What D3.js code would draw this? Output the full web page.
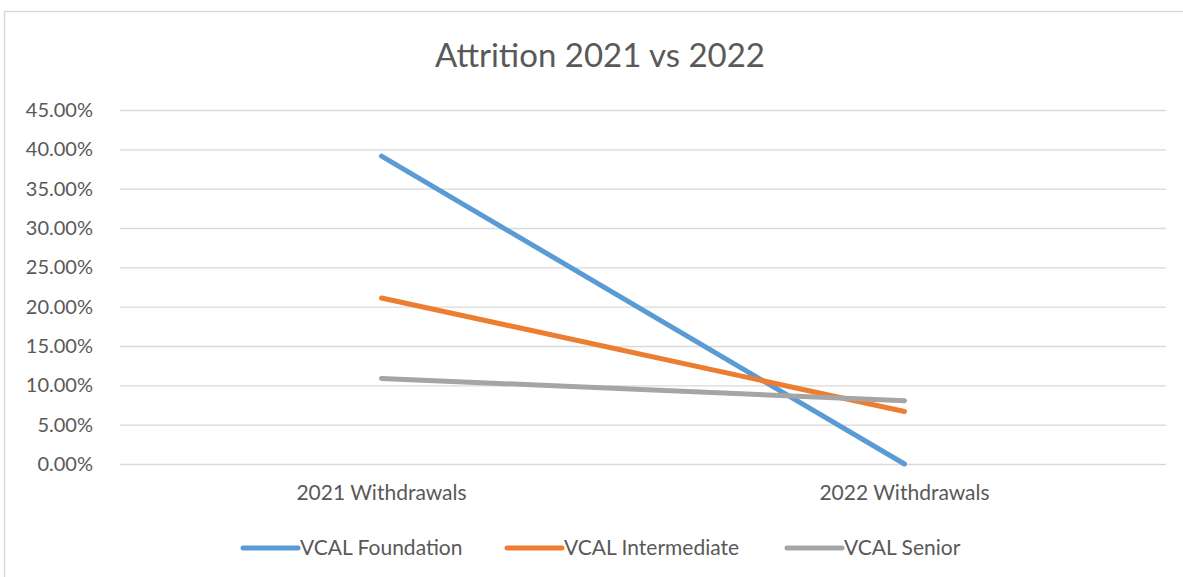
<!DOCTYPE html>
<html>
<head>
<meta charset="utf-8">
<script src="https://cdn.jsdelivr.net/npm/d3@7"></script>
<style>
  body { margin: 0; background: #fff; }
  text { font-family: Lato, "Open Sans", sans-serif; fill: #595959; }
  .grid line { stroke: #d9d9d9; stroke-width: 1.3; }
</style>
</head>
<body>
<svg width="1183" height="577"></svg>
<script>
const svg = d3.select('svg');
const width = +svg.attr('width');
const height = +svg.attr('height');

const categories = ['2021 Withdrawals', '2022 Withdrawals'];
const seriesNames = ['VCAL Foundation', 'VCAL Intermediate', 'VCAL Senior'];
const foundation = [0.3913, 0.0];
const intermediate = [0.2111, 0.0667];
const senior = [0.1087, 0.0805];
const yTicks = [0, 0.05, 0.10, 0.15, 0.20, 0.25, 0.30, 0.35, 0.40, 0.45];
const colors = ['#5b9bd5', '#ed7d31', '#a5a5a5'];

const series = [foundation, intermediate, senior];

const margin = { top: 110, right: 17, bottom: 113, left: 120 };
const innerWidth = width - margin.left - margin.right;
const innerHeight = height - margin.top - margin.bottom;

// chart frame (only top and left edges show in the crop)
svg.append('path')
    .attr('d', `M4.5,${height}V11.5H${width}`)
    .attr('fill', 'none')
    .attr('stroke', '#d9d9d9')
    .attr('stroke-width', 1.5);

const g = svg.append('g')
    .attr('transform', `translate(${margin.left},${margin.top})`);

const xScale = d3.scaleBand()
    .domain(categories)
    .range([0, innerWidth]);

const yScale = d3.scaleLinear()
    .domain([0, 0.45])
    .range([innerHeight, 0]);

// gridlines + y labels
const yAxisG = g.append('g').attr('class', 'grid')
    .call(d3.axisLeft(yScale)
        .tickValues(yTicks)
        .tickSize(-innerWidth)
        .tickPadding(27)
        .tickFormat(d => (d * 100).toFixed(2) + '%'));
yAxisG.select('.domain').remove();
yAxisG.selectAll('text')
    .style('font-size', '20px')
    .attr('fill', '#595959');

// x labels
const xAxisG = g.append('g')
    .attr('transform', `translate(0,${innerHeight})`)
    .call(d3.axisBottom(xScale).tickSize(0).tickPadding(21));
xAxisG.select('.domain').remove();
xAxisG.selectAll('text')
    .style('font-size', '21px')
    .attr('fill', '#595959');

// title
svg.append('text')
    .attr('x', 600)
    .attr('y', 67)
    .attr('text-anchor', 'middle')
    .style('font-size', '33px')
    .text('Attrition 2021 vs 2022');

const line = d3.line()
    .x((d, i) => xScale(categories[i]) + xScale.bandwidth() / 2)
    .y(d => yScale(d));

g.selectAll('.series')
    .data(series)
    .join('path')
    .attr('class', 'series')
    .attr('d', d => line(d))
    .attr('fill', 'none')
    .attr('stroke', (d, i) => colors[i])
    .attr('stroke-width', 5)
    .attr('stroke-linecap', 'round');

// legend
const legendX = [243, 507, 787];
const legend = svg.append('g')
    .attr('transform', 'translate(0,548)');
const items = legend.selectAll('g')
    .data(seriesNames)
    .join('g')
    .attr('transform', (d, i) => `translate(${legendX[i]},0)`);
items.append('line')
    .attr('x1', 0).attr('x2', 55)
    .attr('stroke', (d, i) => colors[i])
    .attr('stroke-width', 5)
    .attr('stroke-linecap', 'round');
items.append('text')
    .attr('x', 57)
    .attr('dy', '0.35em')
    .style('font-size', '21px')
    .text(d => d);
</script>
</body>
</html>
